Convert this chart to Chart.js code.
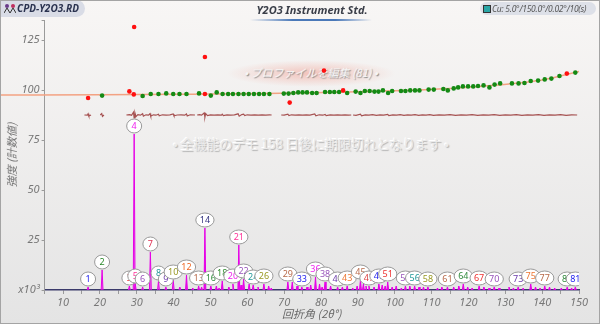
<!DOCTYPE html>
<html>
<head>
<meta charset="utf-8">
<script src="https://cdn.jsdelivr.net/npm/chart.js@4.4.0/dist/chart.umd.min.js"></script>
<style>
  html, body { margin: 0; padding: 0; }
  #wrap { position: relative; width: 600px; height: 324px; overflow: hidden;
    background: linear-gradient(#f8f6f5, #e4e4e4); font-family: "Noto Sans", sans-serif; }
  #frame { position: absolute; left: 0; top: 0; width: 598px; height: 322px; border: 1px solid #a4a4a4; pointer-events: none; }
  canvas { position: absolute; left: 0; top: 0; }
  #file { position: absolute; left: 0; top: 0; width: 85px; height: 17px; box-sizing: border-box; padding-left: 17px;
    background: #d9dce6; border-radius: 0 9px 9px 0; font: italic bold 10px "Noto Sans"; color: #2b3350; line-height: 17px; }
  #file svg { position: absolute; left: 4px; top: 3px; }
  #title { position: absolute; left: 212px; top: 2px; width: 200px; text-align: center;
    font: italic bold 11px "Noto Sans"; color: #3a3e48; }
  #uline { position: absolute; left: 250px; top: 19px; width: 122px; height: 2px;
    background: linear-gradient(90deg, rgba(70,120,190,0), #4a78b8 35%, #4a78b8 70%, rgba(70,120,190,0)); }
  #cond { position: absolute; left: 480px; top: 2px; width: 116px; height: 13px; box-sizing: border-box; padding-left: 12px;
    background: #dde0e8; border-radius: 7px; font: italic 8.5px "Noto Sans"; letter-spacing: -0.25px; color: #555;
    line-height: 13px; white-space: nowrap; }
  #cond span { position: absolute; left: 3px; top: 3px; width: 6px; height: 6px; background: #2aa6a6; border: 1px solid #333; }
  #glow { position: absolute; left: 226px; top: 60px; width: 170px; height: 27px;
    background: radial-gradient(ellipse at center, rgba(240,150,135,0.5), rgba(240,150,135,0) 70%); }
  #wm1 { position: absolute; left: 211px; top: 64px; width: 200px; text-align: center;
    font: italic 11px "Noto Sans CJK JP"; color: #f6f6f6; text-shadow: 1px 1px 1px #8a8a8a; }
  #wm2 { position: absolute; left: 160px; top: 134px; width: 302px; text-align: center;
    font: 13px "Noto Sans CJK JP"; color: #ebebeb; text-shadow: 1px 1px 1px #b4b4b4, -1px -1px 0 #ffffff; }
</style>
</head>
<body>
<div id="wrap">
  <div id="glow"></div>
  <div id="wm1">• プロファイルを編集 (81) •</div>
  <div id="wm2">• 全機能のデモ 158 日後に期限切れとなります •</div>
  <canvas id="chart" width="600" height="324"></canvas>
  <div id="file"><svg width="12" height="11"><circle cx="3" cy="3" r="2" fill="#6a3a8a"/><circle cx="9" cy="3" r="2" fill="#c03060"/><path d="M0 10 L3 5 L6 10 M6 10 L9 5 L12 10" stroke="#333" fill="none"/></svg>CPD-Y2O3.RD</div>
  <div id="title">Y2O3 Instrument Std.</div>
  <div id="uline"></div>
  <div id="cond"><span></span>Cu: 5.0°/150.0°/0.02°/10(s)</div>
  <div id="frame"></div>
</div>
<script>
// labelled peaks (number, 2theta, intensity x10^3)
const peakNo = [1, 2, 3, 4, 5, 6, 7, 8, 9, 10, 12, 13, 14, 16, 18, 20, 21, 22, 24, 26,
  29, 33, 36, 38, 41, 43, 45, 47, 49, 51, 54, 56, 58, 61, 64, 67, 70, 73, 75, 77, 80, 81];
const peakAngle = [16.8, 20.6, 28.0, 29.3, 29.6, 31.6, 33.7, 35.9, 37.9, 39.9, 43.5, 46.8, 48.5, 50.1, 53.2, 56.1, 57.7, 59.0, 61.6, 64.5,
  71.0, 74.8, 78.5, 81.1, 84.5, 87.1, 90.7, 93.0, 95.7, 98.1, 102.9, 105.4, 109.0, 114.3, 118.6, 122.9, 127.0, 133.5, 136.9, 140.7, 146.8, 149.0];
const peakHeight = [1.5, 10, 2, 78, 3, 1.5, 19, 4.5, 1.5, 5, 7.5, 2, 31, 2, 4.5, 3, 22.5, 5.5, 2.5, 3,
  4, 1.5, 6.5, 4, 1.5, 2, 5, 2, 3, 4, 2, 2, 1.5, 1.5, 3, 2, 1.5, 1.5, 3, 2, 1.5, 1.5];

// small unlabelled peaks
const minorAngle = [41.7, 45.2, 47.6, 51.6, 52.3, 55.0, 58.3, 60.5, 62.9, 65.8, 66.5, 72.2, 73.5, 76.2, 77.2, 79.6, 80.3, 82.6, 85.8, 88.6,
  89.8, 91.5, 92.2, 94.4, 96.6, 97.4, 99.3, 100.4, 101.8, 104.1, 106.6, 107.8, 111.6, 112.8, 116.0, 117.4, 119.8, 121.0, 124.2, 125.6,
  128.3, 131.0, 132.2, 134.8, 138.2, 139.4, 142.0, 143.4, 145.2, 148.0];
const minorHeight = [1.5, 1, 1.5, 2, 1, 1.5, 2.5, 3, 1.5, 2, 1, 4, 2, 1.5, 2.5, 3, 1.5, 2, 1.5, 1,
  2, 3, 2, 1.5, 2.5, 2, 1.5, 2, 1, 2, 1.5, 1.5, 1, 1.5, 1.5, 2, 1.5, 1, 1.5, 1,
  1, 1.5, 1, 1, 1.5, 1, 1.5, 1, 1, 1];

// profile parameter points (green = fitted, red = rejected)
const fitAngle = [20.6, 31.6, 33.8, 35.9, 38.0, 39.9, 41.6, 43.5, 46.9, 50.1, 51.7, 53.3, 54.8, 56.1, 57.6, 59.0, 60.4, 61.8, 63.2, 64.5,
  66.0, 69.9, 71.2, 72.5, 73.8, 75.0, 76.2, 77.6, 78.8, 81.1, 82.4, 83.6, 84.9, 87.1, 89.4, 90.7, 91.9, 93.2, 94.5, 95.6,
  96.8, 98.2, 99.3, 101.7, 102.9, 104.2, 105.5, 106.7, 109.2, 110.6, 113.2, 114.4, 116.0, 117.2, 118.5, 119.9, 121.3, 122.6, 124.1, 125.7,
  127.1, 128.6, 131.8, 133.6, 135.2, 136.9, 138.9, 140.7, 142.5, 144.7, 149.0];
const fitValue = [97.2, 97, 98, 98, 98.3, 98, 98, 98, 98.3, 97.2, 98.8, 98, 98, 98, 98, 98, 98, 98, 98, 98,
  98, 98.2, 98.2, 98.5, 98.8, 98.8, 98.8, 98.5, 98.5, 99, 99, 99, 99, 98.5, 99.2, 98.5, 99.5, 99.5, 99.2, 99.2,
  99.8, 98.5, 99.5, 99.5, 99.5, 99.8, 99.8, 99.8, 100.2, 100.2, 100.5, 99.8, 100.8, 101.3, 101.8, 101.8, 101.8, 102, 102.3, 101.3,
  102.7, 103.3, 103.3, 103.3, 103.5, 104.5, 104.7, 105.3, 105.7, 107, 108.7];
const outAngle = [16.8, 28.0, 29.2, 29.3, 48.5, 48.5, 71.5, 80.8, 86.0, 146.7];
const outValue = [96, 99.3, 97.8, 131.5, 98, 116.5, 93.7, 109.7, 99.8, 108.2];

// smoothed profile curve
const curveAngle = [-7, 20, 45, 65, 85, 100, 115, 128, 140, 150];
const curveValue = [97.5, 97.6, 97.9, 98.2, 98.9, 99.6, 100.8, 102.5, 105, 109.2];

// residual trace (null = gap)
const resAngle = [
  15.8, 16.6, 16.8, 17.0, 17.6, 17.7,
  20.1, 20.5, 20.7, 21.1, 21.2,
  27.2, 28.0, 28.6, 29.1, 29.3, 29.5, 29.8, 30.3, 31.0, 31.6, 31.8, 32.5, 33.2, 33.6, 33.8, 34.5, 35.2, 35.9, 36.1, 37.0,
  38.0, 39.0, 39.9, 40.1, 41.0, 42.0, 43.0, 43.5, 43.7, 44.5, 45.8, 45.9,
  46.4, 47.0, 47.6, 48.3, 48.5, 48.7, 49.2, 50.0, 51.0, 52.0, 53.0, 53.2, 53.5, 54.5, 55.5, 56.5, 57.5, 57.8, 58.5, 59.0,
  59.3, 60.0, 61.0, 62.0, 63.0, 64.0, 65.0, 66.0, 66.6, 66.7,
  69.2, 70.0, 71.0, 71.3, 72.0, 73.0, 74.0, 75.0, 76.0, 77.0, 78.3, 78.6, 79.5, 80.5, 81.1, 81.4, 82.5, 83.5, 84.5, 85.5,
  86.5, 87.5, 88.2, 88.3,
  88.7, 89.5, 90.7, 91.0, 92.0, 93.0, 94.0, 95.0, 96.0, 97.0, 98.1, 98.4, 99.5, 100.5, 101.5, 102.5, 103.5, 104.5, 105.5, 106.5,
  107.5, 108.5, 109.5, 110.5, 112, 113.5, 115, 116.5, 118, 119.5, 121, 122.5, 124, 125.5, 127, 128.5, 130, 131.5, 133, 134.5,
  136, 137.5, 139, 140.5, 142, 143.5, 145, 146.5, 148, 149.5];
const resValue = [
  87.5, 87.4, 88.1, 87.0, 87.5, null,
  87.5, 88.2, 86.8, 87.5, null,
  87.5, 87.7, 87.4, 88.9, 86.0, 88.6, 86.7, 87.7, 87.4, 88.1, 86.9, 87.6, 87.4, 88.2, 86.9, 87.6, 87.4, 87.9, 87.1, 87.6,
  87.4, 87.6, 88.0, 87.1, 87.5, 87.6, 87.4, 88.0, 87.0, 87.6, 87.5, null,
  87.5, 87.7, 87.4, 88.5, 86.4, 88.2, 87.2, 87.6, 87.4, 87.6, 87.4, 87.9, 87.2, 87.6, 87.4, 87.6, 88.1, 86.9, 87.7, 87.9,
  87.2, 87.6, 87.4, 87.6, 87.4, 87.6, 87.4, 87.6, 87.5, null,
  87.5, 87.4, 87.9, 87.2, 87.6, 87.4, 87.6, 87.4, 87.6, 87.4, 88.0, 87.1, 87.6, 87.4, 87.8, 87.2, 87.6, 87.4, 87.6, 87.4,
  87.6, 87.4, 87.5, null,
  87.5, 87.3, 87.9, 87.1, 87.6, 87.4, 87.7, 87.3, 87.6, 87.4, 87.8, 87.2, 87.6, 87.4, 87.7, 87.3, 87.6, 87.4, 87.7, 87.3,
  87.6, 87.4, 87.7, 87.3, 87.6, 87.4, 87.7, 87.3, 87.6, 87.4, 87.7, 87.3, 87.6, 87.4, 87.7, 87.3, 87.6, 87.4, 87.7, 87.3,
  87.6, 87.4, 87.7, 87.3, 87.6, 87.4, 87.7, 87.3, 87.6, 87.5];

const labelColors = ['#2222ee', '#2a8a2a', '#ee3333', '#ee22ee', '#ff3399', '#9955bb', '#e03355', '#229999',
  '#6a3aaa', '#999922', '#ee7733', '#ee6622', '#b86a4a', '#333380', '#dd4444', '#2e8a3a'];

const tickFont = { family: '"Noto Sans"', size: 11, style: 'italic' };

// each peak drawn as a narrow spike from the baseline
const peakPts = [];
const allAngle = peakAngle.concat(minorAngle);
const allHeight = peakHeight.concat(minorHeight);
allAngle.forEach((a, i) => {
  peakPts.push({ x: a - 0.25, y: 0 }, { x: a, y: allHeight[i] }, { x: a + 0.25, y: 0 }, { x: a + 0.25, y: null });
});
const pairs = (xs, ys) => xs.map((v, i) => ({ x: v, y: ys[i] }));

const peakLabels = {
  id: 'peakLabels',
  afterDatasetsDraw(chart) {
    const { ctx, chartArea, scales: { x, y } } = chart;
    const base = y.getPixelForValue(0);
    ctx.save();
    ctx.beginPath();
    ctx.rect(chartArea.left, chartArea.top, chartArea.right - chartArea.left, chartArea.bottom - chartArea.top);
    ctx.clip();
    ctx.font = '9px "Noto Sans"';
    ctx.textAlign = 'center';
    ctx.textBaseline = 'middle';
    peakNo.forEach((n, i) => {
      const px = x.getPixelForValue(peakAngle[i]);
      const py = Math.min(y.getPixelForValue(peakHeight[i]) - 8, base - 11);
      const w = Math.max(15, ctx.measureText(String(n)).width + 8);
      ctx.beginPath();
      ctx.ellipse(px, py, w / 2, 7, 0, 0, Math.PI * 2);
      ctx.fillStyle = '#ffffff';
      ctx.fill();
      ctx.strokeStyle = '#999999';
      ctx.lineWidth = 1;
      ctx.stroke();
      ctx.fillStyle = labelColors[(n - 1) % 16];
      ctx.fillText(String(n), px, py + 0.5);
    });
    ctx.restore();
  }
};

const ctx = document.getElementById('chart').getContext('2d');
new Chart(ctx, {
  type: 'scatter',
  data: {
    datasets: [
      { label: 'peaks', data: peakPts, showLine: true, pointRadius: 0, borderColor: '#e600e6', borderWidth: 1,
        backgroundColor: 'rgba(230,0,230,0.55)', fill: 'origin', spanGaps: false, order: 5 },
      { label: 'residual', data: pairs(resAngle, resValue), showLine: true, pointRadius: 0, borderColor: '#a65252',
        borderWidth: 1.2, spanGaps: false, order: 4 },
      { label: 'curve', data: pairs(curveAngle, curveValue), showLine: true, pointRadius: 0, borderColor: '#f3a283',
        borderWidth: 1.5, cubicInterpolationMode: 'monotone', clip: false, order: 3 },
      { label: 'fit', data: pairs(fitAngle, fitValue), pointRadius: 2.3, backgroundColor: '#148a14', borderWidth: 0, order: 2 },
      { label: 'rejected', data: pairs(outAngle, outValue), pointRadius: 2.3, backgroundColor: '#ff1010', borderWidth: 0, order: 1 }
    ]
  },
  options: {
    responsive: false,
    animation: false,
    layout: { padding: { top: 20, right: 21, left: 0, bottom: 0 } },
    plugins: { legend: { display: false }, tooltip: { enabled: false } },
    scales: {
      x: {
        type: 'linear', min: 5, max: 150,
        afterFit: (s) => { s.height = 34; },
        ticks: { stepSize: 5, autoSkip: false, maxRotation: 0, padding: 2, color: '#777', font: tickFont,
          callback: (v) => (v % 10 === 0 ? v : '') },
        grid: { drawOnChartArea: false, tickLength: 4, color: '#9a9a9a' },
        border: { color: '#3b3b6b', width: 1.5 },
        title: { display: true, text: '回折角 (2θ°)', color: '#666', padding: { top: 0, bottom: 4 },
          font: { family: '"Noto Sans CJK JP"', size: 11, style: 'italic' } }
      },
      y: {
        min: 0, max: 135,
        afterFit: (s) => { s.width = 44.6; },
        ticks: { stepSize: 25, padding: 2, color: '#777', font: tickFont,
          callback: (v) => (v === 0 ? 'x10³' : (v % 25 === 0 ? v : '')) },
        grid: { drawOnChartArea: false, tickLength: 3, color: '#9a9a9a' },
        border: { color: '#9a9a9a' },
        title: { display: true, text: '強度 (計数値)', color: '#777', padding: { top: 5, bottom: 0 },
          font: { family: '"Noto Sans CJK JP"', size: 11, style: 'italic' } }
      }
    }
  },
  plugins: [peakLabels]
});
</script>
</body>
</html>
